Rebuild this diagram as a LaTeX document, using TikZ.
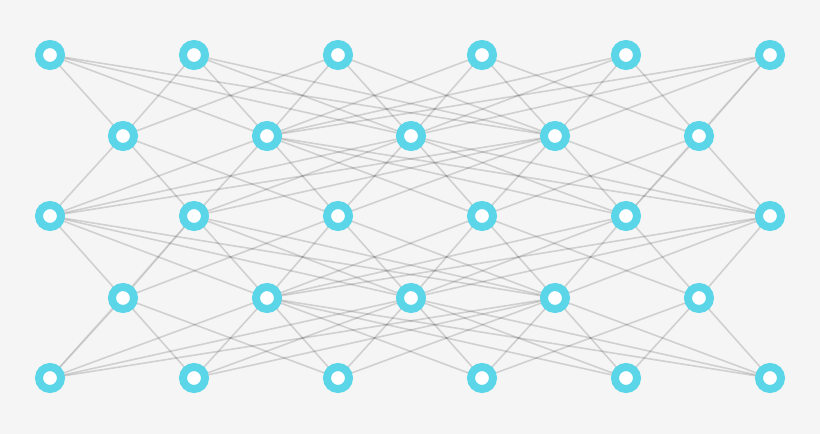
\documentclass[tikz,border=0pt]{standalone}
\usetikzlibrary{backgrounds}
\definecolor{bgc}{HTML}{F5F5F5}
\definecolor{ringc}{HTML}{5BD6E9}
\tikzset{
  neuron/.style={circle, draw=ringc, line width=8pt, fill=white, minimum size=22pt, inner sep=0pt},
  link/.style={draw=black, opacity=0.15, line width=1.6pt},
}
\begin{document}
\begin{tikzpicture}[x=1pt, y=-1pt]
\useasboundingbox (0,0) rectangle (820,434);
% rows with 6 nodes
\foreach \i/\x in {0/50,1/194,2/338,3/482,4/626,5/770}{
  \node[neuron] (A\i) at (\x,55) {};
  \node[neuron] (C\i) at (\x,216) {};
  \node[neuron] (E\i) at (\x,378) {};
}
% rows with 5 nodes
\foreach \i/\x in {0/123,1/267,2/411,3/555,4/699}{
  \node[neuron] (B\i) at (\x,136) {};
  \node[neuron] (D\i) at (\x,298) {};
}
\begin{pgfonlayer}{background}
\fill[bgc] (0,0) rectangle (820,434);
\foreach \u/\l in {A/B,C/B,C/D,E/D}{
  \foreach \a in {0,1,2}{
    \foreach \b in {0,1,2,3}{
      \draw[link] (\u\a.center) -- (\l\b.center);
    }
  }
  \foreach \a in {3,4,5}{
    \foreach \b in {1,2,3,4}{
      \draw[link] (\u\a.center) -- (\l\b.center);
    }
  }
}
\draw[link, opacity=0.07] (A5.center) -- (C4.center);
\draw[link, opacity=0.07] (C1.center) -- (E0.center);
\end{pgfonlayer}
\end{tikzpicture}
\end{document}
